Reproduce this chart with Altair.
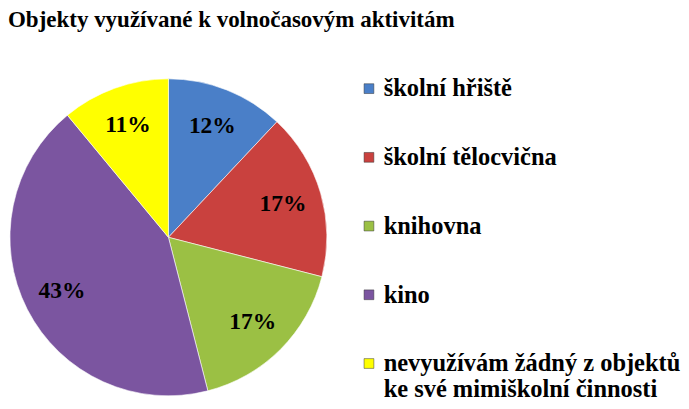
import altair as alt
import pandas as pd

categories = ["školní hřiště", "školní tělocvična", "knihovna", "kino",
              "nevyužívám žádný z objektů\nke své mimiškolní činnosti"]
values = [12, 17, 17, 43, 11]
labels = ["12%", "17%", "17%", "43%", "11%"]
colors = ["#4a7fc8", "#c9413e", "#9bc044", "#7b55a0", "#ffff00"]

df = pd.DataFrame({"cat": categories, "value": values, "label": labels,
                   "order": list(range(len(categories)))})

FONT = "Liberation Serif"
Y0 = 41  # page y of plot origin
CX, CY, R = 157, 240 - Y0, 162

color = alt.Color("cat:N", scale=alt.Scale(domain=categories, range=colors), legend=None)

base = alt.Chart(df)

arcs = base.mark_arc(outerRadius=R, stroke="#ffffff", strokeWidth=1, strokeOpacity=0.6).encode(
    theta=alt.Theta("value:Q", stack=True),
    order=alt.Order("order:Q"),
    color=color,
    x=alt.value(CX), y=alt.value(CY),
)

pie_labels = base.mark_text(radius=122, font=FONT, fontSize=24, fontWeight="bold",
                            color="#000000").encode(
    theta=alt.Theta("value:Q", stack=True),
    order=alt.Order("order:Q"),
    text="label:N",
    x=alt.value(CX), y=alt.value(CY),
)

ypos = alt.Y("cat:N", sort=categories, axis=None,
             scale=alt.Scale(type="point", domain=categories,
                             range=[88 - Y0, 369 - Y0], padding=0))

legend_sq = base.mark_square(size=100, opacity=1, stroke="#333333", strokeWidth=0.5).encode(
    x=alt.value(362), y=ypos, color=color,
)

legend_txt = base.mark_text(align="left", baseline="alphabetic", dy=8, font=FONT,
                            fontSize=25, fontWeight="bold", lineBreak="\n", lineHeight=26,
                            color="#000000").encode(
    x=alt.value(377), y=ypos, text="cat:N",
)

chart = alt.layer(arcs, pie_labels, legend_sq, legend_txt).properties(
    width=681, height=400 - Y0,
    padding={"left": 0, "top": -5, "right": 0, "bottom": 0},
    title=alt.TitleParams("Objekty využívané k volnočasovým aktivitám", anchor="start",
                          font=FONT, fontSize=23.5, fontWeight="bold", color="#000000",
                          offset=12),
).configure_view(stroke=None)

chart.save("out.html", embed_options={"renderer": "svg", "actions": False})
